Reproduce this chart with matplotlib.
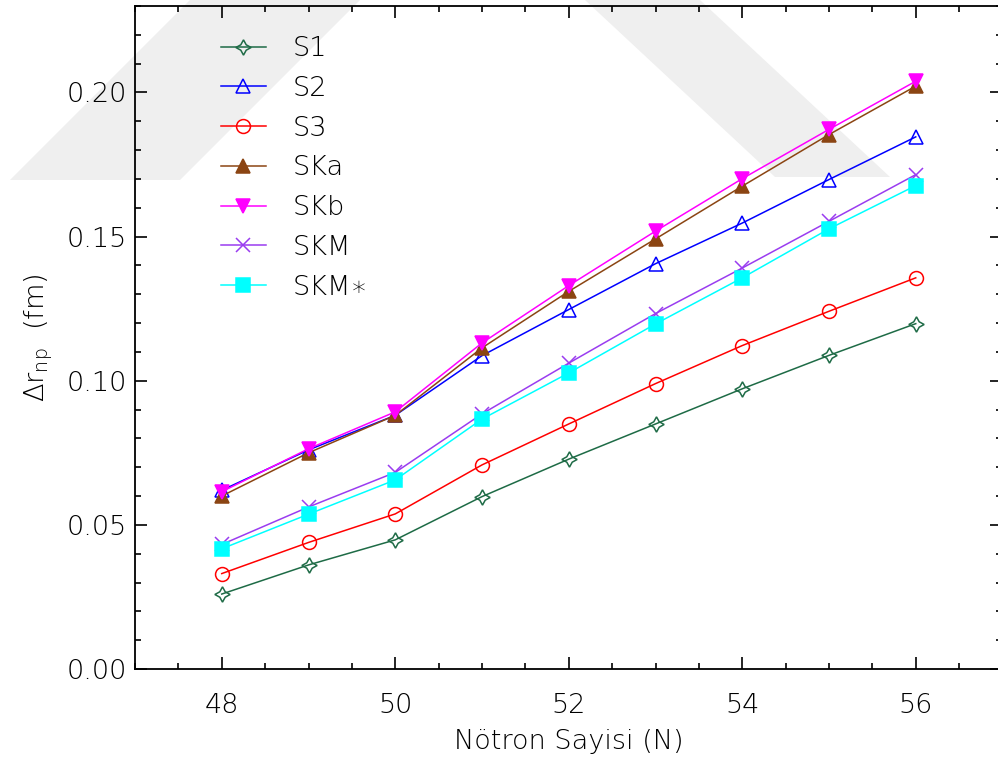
import numpy as np
import matplotlib
matplotlib.use('Agg')
import matplotlib.pyplot as plt
from matplotlib.patches import Polygon
from matplotlib.ticker import MultipleLocator, FixedLocator, FormatStrFormatter

# neutron number
neutrons = [48, 49, 50, 51, 52, 53, 54, 55, 56]

# neutron skin thickness (fm) for each force
s1 = [0.0260, 0.0361, 0.0448, 0.0598, 0.0728, 0.0850, 0.0972, 0.1088, 0.1198]
s2 = [0.0620, 0.0760, 0.0880, 0.1087, 0.1247, 0.1406, 0.1547, 0.1698, 0.1846]
s3 = [0.0331, 0.0439, 0.0538, 0.0708, 0.0850, 0.0990, 0.1122, 0.1241, 0.1357]
ska = [0.0600, 0.0750, 0.0880, 0.1114, 0.1310, 0.1492, 0.1675, 0.1854, 0.2022]
skb = [0.0615, 0.0764, 0.0892, 0.1131, 0.1330, 0.1519, 0.1701, 0.1872, 0.2039]
skm = [0.0432, 0.0562, 0.0682, 0.0885, 0.1061, 0.1233, 0.1391, 0.1553, 0.1715]
skm_star = [0.0417, 0.0537, 0.0656, 0.0867, 0.1027, 0.1197, 0.1357, 0.1527, 0.1677]

series = [
    ('S1', s1, '#1e6b46', (4, 1, 0), 'none'),
    ('S2', s2, '#0000ff', '^', 'none'),
    ('S3', s3, '#ff0000', 'o', 'none'),
    ('SKa', ska, '#8b4513', '^', 'full'),
    ('SKb', skb, '#ff00ff', 'v', 'full'),
    ('SKM', skm, '#9a3cf0', 'x', 'none'),
    ('SKM∗', skm_star, '#00ffff', 's', 'full'),
]

# faint background stamp, corners in pixels from the top-left
stamp = [
    [(10, 180), (180, 180), (360, 0), (190, 0)],
    [(585, 0), (700, 0), (890, 177), (775, 177)],
]

plt.rcParams['font.family'] = ['DejaVu Sans']
plt.rcParams['font.weight'] = 'light'
plt.rcParams['axes.labelweight'] = 'light'
plt.rcParams['text.color'] = 'black'

W, H = 998, 760
fig = plt.figure(figsize=(W / 100, H / 100), dpi=100)
for pts in stamp:
    fig.patches.append(Polygon([(x / W, 1 - y / H) for x, y in pts], closed=True, transform=fig.transFigure,
                               facecolor='#efefef', edgecolor='none', zorder=-10))

ax = fig.add_axes([135 / W, (H - 669) / H, (1002.5 - 135) / W, (669 - 6) / H])
ax.patch.set_alpha(0)

for name, vals, color, marker, fill in series:
    ax.plot(neutrons, vals, color=color, lw=1.1, marker=marker, ms=10 if marker != (4, 1, 0) else 11,
            fillstyle=fill, markeredgewidth=1.1, markerfacecolor=color if fill == 'full' else 'none',
            markeredgecolor=color, label=name)

ax.set_xlim(47, 57)
ax.set_ylim(0, 0.23)
ax.xaxis.set_major_locator(FixedLocator([48, 50, 52, 54, 56]))
ax.xaxis.set_minor_locator(MultipleLocator(0.5))
ax.yaxis.set_major_locator(MultipleLocator(0.05))
ax.yaxis.set_minor_locator(MultipleLocator(0.01))
ax.yaxis.set_major_formatter(FormatStrFormatter('%.2f'))
ax.tick_params(which='both', direction='in', top=True, right=True, width=1.2, labelsize=19.5,
               labelcolor='black')
ax.tick_params(which='major', length=8.6)
ax.tick_params(which='minor', length=4.3)
ax.tick_params(axis='x', pad=17)
ax.tick_params(axis='y', pad=6)
for sp in ax.spines.values():
    sp.set_linewidth(1.3)

ax.set_xlabel('Nötron Sayisi (N)', fontsize=19.5, labelpad=8)
ax.set_ylabel(r'$\Delta$r$_{\rm np}$  (fm)', fontsize=19.5, labelpad=8)

leg = ax.legend(loc='upper left', bbox_to_anchor=(221 / W, 1 - 36 / H), bbox_transform=fig.transFigure,
                frameon=False, fontsize=19.5, handlelength=1.65, handletextpad=1.0, labelspacing=0.545,
                borderpad=0, borderaxespad=0)

fig.savefig('out.png', dpi=100)
